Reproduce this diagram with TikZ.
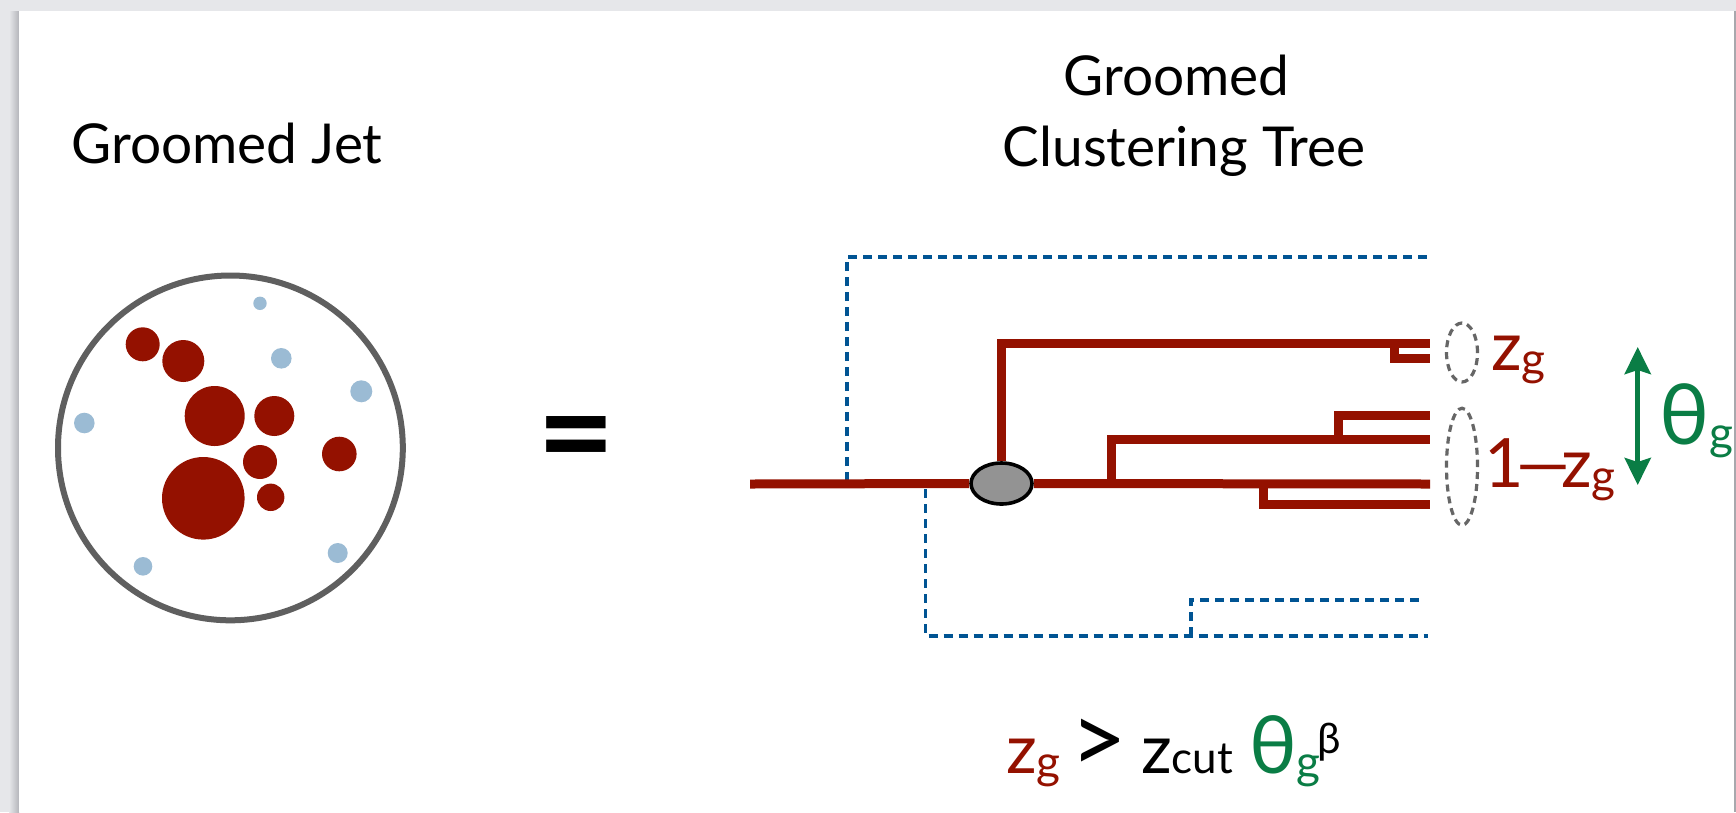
\documentclass[tikz,border=0pt]{standalone}
\usepackage{fontspec}
\setmainfont{Lato}
\usetikzlibrary{arrows.meta,shapes.geometric}
\definecolor{zred}{HTML}{941100}
\definecolor{zgreen}{HTML}{0A7D45}
\definecolor{zblue}{HTML}{005493}
\definecolor{lblue}{HTML}{9BBBD4}
\definecolor{rimgray}{HTML}{5F5F5F}
\definecolor{ovalgray}{HTML}{666666}
\definecolor{nodegray}{HTML}{939393}
\definecolor{bggray}{HTML}{E6E7EA}
\definecolor{shadegray}{HTML}{B4B5BA}
\definecolor{edgegray}{HTML}{A8A8AD}
\newcommand\bigf{\fontsize{68}{68}\selectfont}
\newcommand\subf{\fontsize{46}{46}\selectfont}
\newcommand\titf{\fontsize{55}{60}\selectfont}
\begin{document}
\begin{tikzpicture}[x=1pt,y=-1pt,
  tree/.style={draw=zred,line width=9pt,line cap=butt,line join=miter},
  groom/.style={draw=zblue,line width=3.6pt,dash pattern=on 9pt off 6pt},
  oval/.style={ellipse,draw=ovalgray,line width=3.2pt,dash pattern=on 7pt off 5pt,inner sep=0pt},
  title/.style={font=\titf,inner sep=0pt,anchor=base,align=center},
  lbl/.style={anchor=base west,inner sep=0pt},
  twohead/.style={draw=zgreen,line width=5pt,
     {Stealth[length=27pt,width=26pt,inset=4pt]}-{Stealth[length=27pt,width=26pt,inset=4pt]}}
]
\useasboundingbox (0,0) rectangle (1736,812);
% slide background
\fill[bggray] (0,0) rectangle (1736,812);
\shade[left color=bggray,right color=shadegray] (9,11) rectangle (19,812);
\fill[white] (19,11) rectangle (1733.5,812);
\fill[edgegray] (1733.5,11) rectangle (1736,812);

% titles
\node[title] (tjet) at (227,163.3) {Groomed Jet};
\node[title] (ttree1) at (1176.5,95) {Groomed};
\node[title] (ttree2) at (1184,166.7) {Clustering Tree};

% groomed jet picture
\draw[rimgray,line width=6pt] (230.4,447.9) circle[radius=172.4];
\fill[zred] (142.7,344.3) circle[radius=17];
\fill[zred] (183.3,361) circle[radius=21];
\fill[zred] (214.7,416) circle[radius=30];
\fill[zred] (274.3,416) circle[radius=20];
\fill[zred] (339.3,454) circle[radius=17.3];
\fill[zred] (260,462) circle[radius=17];
\fill[zred] (203.3,498.3) circle[radius=41.3];
\fill[zred] (270.7,497.3) circle[radius=13.7];
\fill[lblue] (260,303.3) circle[radius=6.7];
\fill[lblue] (281.3,358.3) circle[radius=10.3];
\fill[lblue] (361.3,391.3) circle[radius=11];
\fill[lblue] (84.3,423) circle[radius=10.3];
\fill[lblue] (337.7,553) circle[radius=10];
\fill[lblue] (143,566.3) circle[radius=9.3];

% equals
\node[font=\fontsize{134}{134}\selectfont\bfseries,inner sep=0pt] (eq) at (576,447.5) {=};

% tree coordinates
\coordinate (root) at (750,484);
\coordinate (tip0) at (1430,484);
\coordinate (tip1) at (1430,343);
\coordinate (tip1h) at (1430,358);
\coordinate (jh) at (1394,343);
\coordinate (j2) at (1111.5,484);
\coordinate (tip2) at (1430,439.5);
\coordinate (j3) at (1338.7,439.5);
\coordinate (tip3) at (1430,415);
\coordinate (j4) at (1263.3,484);
\coordinate (tip4) at (1430,504);
% groomed-away branches
\coordinate (g1) at (847,481);
\coordinate (g1e) at (1428,257);
\coordinate (g2) at (925.5,489);
\coordinate (g2e) at (1428,636);
\coordinate (g3) at (1191,636);
\coordinate (g3e) at (1421,600);
\draw[groom] (g1) |- (g1e);
\draw[groom] (g2) |- (g2e);
\draw[groom] (g3) |- (g3e);

% split node
\node[ellipse,draw=black,line width=3.6pt,fill=nodegray,minimum width=61pt,minimum height=41pt,inner sep=0pt] (split) at (1001.5,483.5) {};
\draw[tree] (root) -- (split.west);
\draw[tree] (split.east) -- (tip0);
\draw[tree] (split.north) |- (tip1);
\draw[tree] (jh) |- (tip1h);
\draw[tree] (j2) |- (tip2);
\draw[tree] (j3) |- (tip3);
\draw[tree] (j4) |- (tip4);

% dashed ovals
\node[oval,minimum width=31pt,minimum height=59pt] (o1) at (1462,352.5) {};
\node[oval,minimum width=31pt,minimum height=117pt] (o2) at (1462,466.7) {};

% labels
\node[lbl,text=zred,font=\bigf] (lz) at (1491,370) {z\raisebox{-5pt}{\subf g}};
\node[lbl,text=zred,font=\bigf] (l1) at (1484,487) {1};
\node[lbl,text=zred,font=\bigf] (lmz) at (1510,487) {\scalebox{1.67}[1]{–}\hspace{-15pt}z\raisebox{-5pt}{\subf g}};

% theta arrow
\coordinate (th1) at (1637.7,347);
\coordinate (th2) at (1637.7,485);
\draw[twohead] (th1) -- (th2);
\node[lbl,text=zgreen,font=\fontsize{84}{84}\selectfont] (lth) at (1659,444) {θ\raisebox{-5pt}{\subf g}};

% condition
\node[lbl,text=zred,font=\bigf] (cz) at (1006,773) {z\raisebox{-5pt}{\subf g}};
\node[lbl,font=\fontsize{98}{98}\selectfont] (cgt) at (1070,773) {>};
\node[lbl,font=\bigf] (czc) at (1141,773) {z{\fontsize{44}{44}\selectfont cut}};
\node[lbl,text=zgreen,font=\fontsize{80}{80}\selectfont] (cth) at (1249,773) {θ\raisebox{-5pt}{\subf g}};
\node[lbl,font=\fontsize{42}{42}\selectfont] (cb) at (1317,753) {β};
\end{tikzpicture}
\end{document}
